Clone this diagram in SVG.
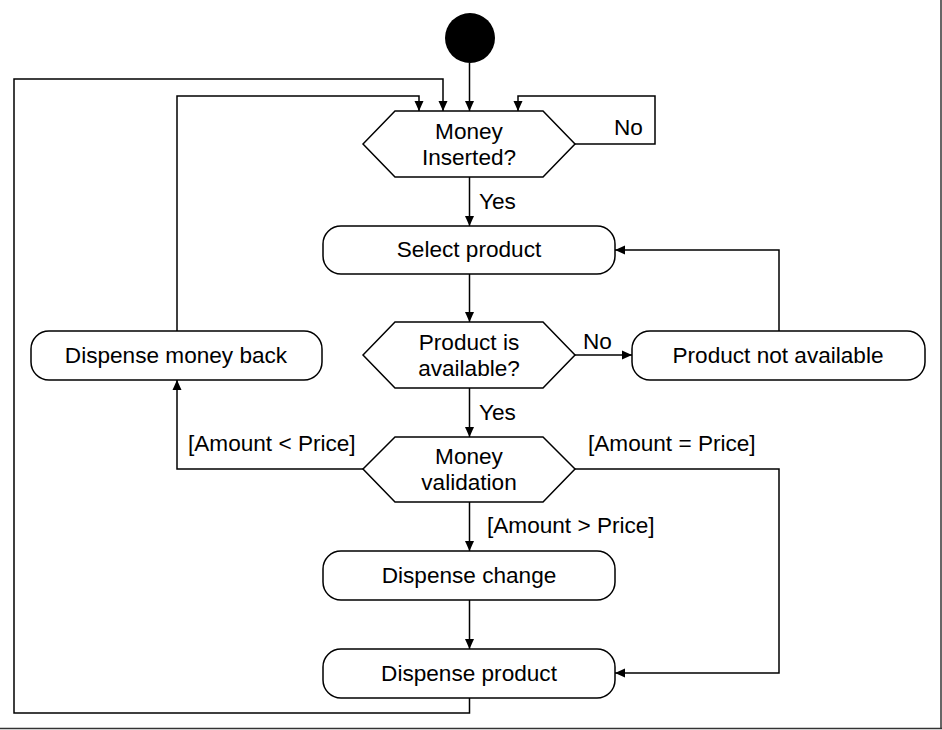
<svg xmlns="http://www.w3.org/2000/svg" width="942" height="730" viewBox="0 0 942 730">
<defs>
<marker id="arr" viewBox="0 0 10 10" refX="10" refY="5" markerWidth="10" markerHeight="10" markerUnits="userSpaceOnUse" orient="auto">
<path d="M0,0.5 L10,5 L0,9.5 Z" fill="#000"/>
</marker>
<style>
.n{fill:#fff;stroke:#000;stroke-width:1.5}
.t{font-family:"Liberation Sans",Arial,sans-serif;font-size:22.6px;fill:#000;text-anchor:middle}
.l{font-family:"Liberation Sans",Arial,sans-serif;font-size:22.6px;fill:#000}
.c{fill:none;stroke:#000;stroke-width:1.5;marker-end:url(#arr)}
</style>
</defs>
<rect width="942" height="730" fill="#fff"/>
<g id="frame">
<line x1="941" y1="0" x2="941" y2="729" stroke="#333" stroke-width="1.5"/>
<line x1="0" y1="728.5" x2="942" y2="728.5" stroke="#333" stroke-width="1.5"/>
</g>
<g id="connectors">
<path class="c" d="M469.5,63 V111"/>
<path class="c" d="M469.5,177 V226"/>
<path class="c" d="M575,144 H655 V96 H518 V111"/>
<path class="c" d="M469.5,274 V322"/>
<path class="c" d="M575,355 H632"/>
<path class="c" d="M779,331 V250 H615"/>
<path class="c" d="M469.5,388 V437"/>
<path class="c" d="M363,469 H177 V380"/>
<path class="c" d="M177,331 V96 H419 V111"/>
<path class="c" d="M575,469 H779 V673 H615"/>
<path class="c" d="M469.5,502 V551"/>
<path class="c" d="M469.5,600 V649"/>
<path class="c" d="M469.5,698 V713 H14 V79 H443 V111"/>
<text class="l" x="614" y="135">No</text>
<text class="l" x="479" y="209">Yes</text>
<text class="l" x="583" y="349">No</text>
<text class="l" x="479" y="420">Yes</text>
<text class="l" x="188" y="451">[Amount &lt; Price]</text>
<text class="l" x="588" y="451">[Amount = Price]</text>
<text class="l" x="487" y="533">[Amount &gt; Price]</text>
</g>
<g id="start">
<circle cx="470" cy="38" r="25" fill="#000"/>
</g>
<g id="money-inserted">
<polygon class="n" points="363,144 395,111 543,111 575,144 543,177 395,177"/>
<text class="t" x="469" y="139">Money</text>
<text class="t" x="469" y="165">Inserted?</text>
</g>
<g id="select-product">
<rect class="n" x="323" y="226" width="292" height="48" rx="18"/>
<text class="t" x="469" y="257">Select product</text>
</g>
<g id="product-available">
<polygon class="n" points="363,355 395,322 543,322 575,355 543,388 395,388"/>
<text class="t" x="469" y="350">Product is</text>
<text class="t" x="469" y="376">available?</text>
</g>
<g id="product-not-available">
<rect class="n" x="632" y="331" width="293" height="49" rx="18"/>
<text class="t" x="778" y="363">Product not available</text>
</g>
<g id="dispense-money-back">
<rect class="n" x="31" y="331" width="291" height="49" rx="18"/>
<text class="t" x="176" y="363">Dispense money back</text>
</g>
<g id="money-validation">
<polygon class="n" points="363,469 395,437 543,437 575,469 543,502 395,502"/>
<text class="t" x="469" y="464">Money</text>
<text class="t" x="469" y="490">validation</text>
</g>
<g id="dispense-change">
<rect class="n" x="323" y="551" width="292" height="49" rx="18"/>
<text class="t" x="469" y="583">Dispense change</text>
</g>
<g id="dispense-product">
<rect class="n" x="323" y="649" width="292" height="49" rx="18"/>
<text class="t" x="469" y="681">Dispense product</text>
</g>
</svg>
